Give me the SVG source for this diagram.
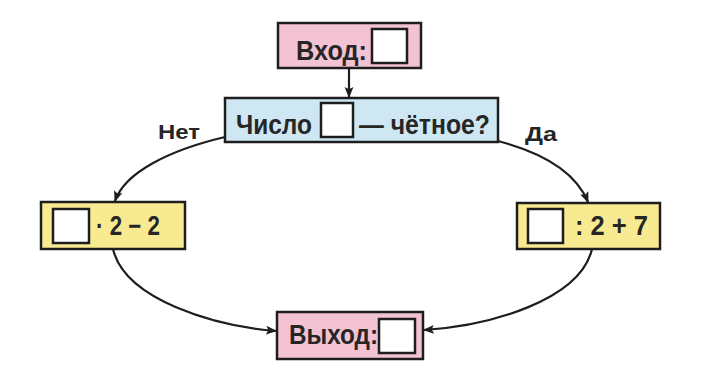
<svg xmlns="http://www.w3.org/2000/svg" width="714" height="380" viewBox="0 0 714 380">
  <defs>
    <marker id="ah" viewBox="0 0 10 10" refX="9" refY="5" markerWidth="11" markerHeight="11" markerUnits="userSpaceOnUse" orient="auto">
      <path d="M0,1 L10,5 L0,9 L2,5 Z" fill="#1e1e1e"/>
    </marker>
  </defs>
  <style>
    .box { stroke: #1e1e1e; stroke-width: 2.5; }
    .pink { fill: #f3c3d4; }
    .blue { fill: #cfe7f3; }
    .yellow { fill: #f8ea90; }
    .sq { fill: #ffffff; stroke: #1e1e1e; stroke-width: 2.5; }
    .t { font-family: "Liberation Sans", Arial, sans-serif; font-weight: bold; font-size: 27px; fill: #262626; }
    .lbl { font-family: "Liberation Sans", Arial, sans-serif; font-weight: bold; font-size: 21px; fill: #262626; }
    .conn { fill: none; stroke: #1e1e1e; stroke-width: 2.2; marker-end: url(#ah); }
  </style>
  <rect width="714" height="380" fill="#ffffff"/>

  <g id="connectors">
    <path class="conn" d="M349,68 L349,97"/>
    <path class="conn" d="M225,137 C170,150 125,172 115,201"/>
    <path class="conn" d="M498,141 C540,152 575,170 588,202"/>
    <path class="conn" d="M113,249 C125,300 215,326 276,331"/>
    <path class="conn" d="M592,249 C580,300 490,326 424,330"/>
    <text class="lbl" x="158" y="139" textLength="42" lengthAdjust="spacingAndGlyphs">Нет</text>
    <text class="lbl" x="525" y="141" textLength="32" lengthAdjust="spacingAndGlyphs">Да</text>
  </g>

  <g id="input">
    <rect class="box pink" x="278" y="23" width="143" height="45"/>
    <rect class="sq" x="372" y="29" width="35" height="34"/>
    <text class="t" x="296" y="60" textLength="71" lengthAdjust="spacingAndGlyphs">Вход:</text>
  </g>

  <g id="decision">
    <rect class="box blue" x="225" y="98" width="273" height="44"/>
    <rect class="sq" x="321" y="103" width="32" height="34"/>
    <text class="t" x="236" y="134" textLength="76" lengthAdjust="spacingAndGlyphs">Число</text>
    <text class="t" x="359" y="134" textLength="131" lengthAdjust="spacingAndGlyphs">— чётное?</text>
  </g>

  <g id="left">
    <rect class="box yellow" x="41" y="202" width="144" height="47"/>
    <rect class="sq" x="53" y="209" width="36" height="34"/>
    <text class="t" x="96" y="235" textLength="64" lengthAdjust="spacingAndGlyphs">· 2 − 2</text>
  </g>

  <g id="right">
    <rect class="box yellow" x="517" y="203" width="143" height="46"/>
    <rect class="sq" x="528" y="209" width="35" height="34"/>
    <text class="t" x="575" y="235" textLength="73" lengthAdjust="spacingAndGlyphs">: 2 + 7</text>
  </g>

  <g id="output">
    <rect class="box pink" x="277" y="312" width="146" height="47"/>
    <rect class="sq" x="379" y="319" width="36" height="34"/>
    <text class="t" x="289" y="344" textLength="89" lengthAdjust="spacingAndGlyphs">Выход:</text>
  </g>
</svg>
